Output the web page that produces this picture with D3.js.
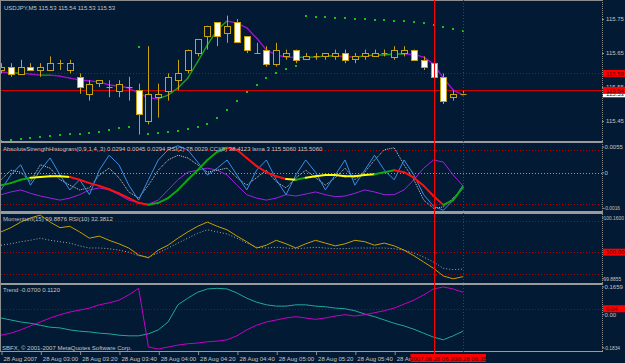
<!DOCTYPE html>
<html><head><meta charset="utf-8">
<script src="https://cdn.jsdelivr.net/npm/d3@7"></script>
<style>
html,body{margin:0;padding:0;background:#021a33;overflow:hidden}
svg{display:block}
text{font-family:"Liberation Sans",Arial,sans-serif;font-size:6px}
</style>
</head><body>
<svg id="c" width="625" height="363"></svg>
<script>
// ---------- DATA ----------
const symbolTitle = "USDJPY,M5  115.53 115.54 115.53 115.53";
const panel2Title = "AbsoluteStrengthHistogram(0,9,1,4,,3) 0.0294 0.0045 0.0294  RSI(2) 78.0029  CCI(8) 38.4123  lsma 3 115.5060 115.5060";
const panel3Title = "Momentum(15) 99.8876  RSI(10) 32.3812";
const panel4Title = "Trend -0.0700 0.1120";
const footerText = "SBFX, © 2001-2007 MetaQuotes Software Corp.";

const timeLabelBars = [0,4,8,12,16,20,24,28,32,36,40];
const timeLabels = ["28 Aug 2007","28 Aug 03:00","28 Aug 03:20","28 Aug 03:40","28 Aug 04:00","28 Aug 04:20","28 Aug 04:40","28 Aug 05:00","28 Aug 05:20","28 Aug 05:40","28 Aug 06:00"];

const opens  = [115.60,115.61,115.59,115.61,115.60,115.60,115.62,115.60,115.58,115.53,115.56,115.55,115.54,115.55,115.54,115.45,115.52,115.54,115.57,115.60,115.65,115.70,115.74,115.71,115.74,115.70,115.65,115.66,115.62,115.64,115.66,115.63,115.64,115.64,115.64,115.65,115.63,115.64,115.64,115.65,115.64,115.65,115.66,115.63,115.62,115.58,115.52,115.53];
const highs  = [115.62,115.62,115.63,115.62,115.62,115.64,115.63,115.63,115.59,115.57,115.57,115.57,115.57,115.58,115.56,115.67,115.56,115.59,115.63,115.66,115.69,115.73,115.74,115.76,115.75,115.70,115.68,115.67,115.68,115.66,115.66,115.65,115.65,115.65,115.66,115.66,115.65,115.66,115.66,115.66,115.67,115.67,115.66,115.64,115.62,115.59,115.54,115.54];
const lows   = [115.59,115.58,115.59,115.60,115.58,115.60,115.60,115.59,115.53,115.51,115.55,115.52,115.52,115.51,115.41,115.44,115.46,115.51,115.54,115.59,115.64,115.66,115.67,115.68,115.68,115.65,115.65,115.61,115.61,115.63,115.62,115.63,115.63,115.63,115.63,115.62,115.62,115.63,115.64,115.64,115.63,115.64,115.63,115.60,115.57,115.50,115.51,115.53];
const closes = [115.61,115.59,115.61,115.60,115.61,115.62,115.62,115.62,115.55,115.56,115.57,115.55,115.56,115.55,115.47,115.53,115.53,115.58,115.59,115.66,115.69,115.73,115.70,115.73,115.68,115.66,115.65,115.62,115.66,115.65,115.63,115.64,115.64,115.65,115.65,115.63,115.64,115.65,115.65,115.65,115.66,115.66,115.63,115.61,115.58,115.51,115.53,115.53];

const maLine = [115.594,115.591,115.591,115.588,115.585,115.585,115.582,115.576,115.571,115.568,115.565,115.556,115.553,115.547,115.532,115.518,115.515,115.526,115.547,115.576,115.624,115.674,115.718,115.744,115.738,115.724,115.694,115.659,115.644,115.638,115.637,115.638,115.638,115.641,115.641,115.640,115.638,115.641,115.644,115.644,115.647,115.647,115.646,115.638,115.618,115.576,115.541,115.526];
const sarDots = [115.391,115.394,115.397,115.400,115.403,115.406,115.409,115.412,115.413,115.415,115.418,115.424,115.429,115.432,115.668,115.412,115.415,115.418,115.421,115.426,115.432,115.441,115.459,115.482,115.509,115.535,115.556,115.576,115.591,115.603,115.612,115.759,115.756,115.755,115.753,115.752,115.750,115.749,115.747,115.746,115.744,115.743,115.740,115.737,115.732,115.726,115.721,115.715];

const mainTicks = [115.75,115.65,115.55,115.45];
const hLineDotted = 115.59;
const hLineSolid = 115.54;
const bidPrice = 115.53;

const vLineSolidBar = 44;
const vLineDottedBar = 47;
const vLineSolidLabel = "2007.08.28 06:20";
const vLineDottedLabel = "2007.08.28 06:35";

// panel 2 (oscillator window, 0-100 window units)
const ashLine   = [38,41,46,49,50,51,51,50,46,41,37,32,26,19,12,9,12,19,31,46,60,75,87,93,90,78,66,57,51,47,46,49,51,53,53,51,51,53,54,57,60,57,49,37,22,9,16,35];
const blueLine  = [31,53,68,38,60,78,53,31,46,24,60,82,68,38,16,46,75,90,96,90,72,53,63,75,53,31,60,75,46,24,53,75,57,31,53,75,38,60,82,60,46,75,53,24,7,1,16,38];
const dotLine2  = [46,60,57,43,68,63,46,38,31,34,53,63,49,28,19,38,60,75,82,78,68,57,60,63,49,38,49,60,43,34,49,60,49,38,49,63,46,57,75,90,93,68,46,16,4,6,19,34];
const purpleLine2 = [24,28,31,26,22,19,16,19,24,31,34,31,24,16,12,10,16,31,46,57,60,63,60,53,38,24,19,16,19,24,22,25,28,24,21,22,26,31,28,24,24,31,46,63,75,72,53,37];
const p2Levels = [{v:90,c:"red"},{v:56,c:"gray"},{v:10,c:"red"}];
const p2Labels = [{v:94,t:"0.0055"},{v:56,t:"0"},{v:4,t:"-0.0016"}];

// panel 3
const momentumLine = [73,79,87,93,97,87,79,81,73,64,67,61,56,50,40,36,47,54,64,73,81,87,81,76,67,59,50,54,61,56,50,56,61,57,53,56,61,59,54,57,53,47,39,30,21,10,6,9];
const rsiLine = [54,56,59,61,64,61,59,57,53,50,50,49,47,44,39,37,43,50,57,64,71,76,73,70,64,57,51,50,51,50,49,50,51,50,49,49,50,50,50,50,49,47,43,37,30,21,19,20];
const p3Levels = [89,44,13];
const p3Labels = [{v:93,t:"100.1600"},{v:6,t:"99.8855"}];
const p3Box = {v:44,t:"100.00"};

// panel 4
const trendPurple = [24,27,32,38,44,50,55,59,62,65,70,73,77,85,95,6,3,6,9,11,12,14,15,17,23,32,39,44,47,50,52,50,48,50,53,55,53,55,58,61,65,71,77,85,94,97,94,89];
const trendTeal   = [50,47,44,42,39,36,35,32,30,29,27,26,24,23,23,26,32,44,70,80,89,94,95,94,88,80,74,70,68,68,70,70,68,67,65,64,61,56,52,47,42,38,33,27,21,17,23,30];
const p4Levels = [64];
const p4Labels = [{v:97,t:"0.1659"},{v:55,t:"0.00"},{v:5,t:"-0.1834"}];
const p4Box = {v:64,t:"0.04"};

// ---------- DRAW ----------
const BG="#021a33", TXT="#c4c4c4", GOLD="#c9a210", GRID="#8c8c8c";
const svg = d3.select("#c");
const W=625, H=363, RIGHT=602;
const N = closes.length;
const x = d3.scaleLinear().domain([0,47]).range([1,463]);
const yM = d3.scaleLinear().domain([115.45,115.75]).range([121,19]);
const y2 = d3.scaleLinear().domain([0,100]).range([211,143]);
const y3 = d3.scaleLinear().domain([0,100]).range([283,213]);
const y4 = d3.scaleLinear().domain([0,100]).range([351,285]);

svg.append("rect").attr("width",W).attr("height",H).attr("fill",BG);

const defs = svg.append("defs");
function clip(id,y0,y1){defs.append("clipPath").attr("id",id).append("rect").attr("x",1).attr("y",y0).attr("width",RIGHT-1).attr("height",y1-y0);return "url(#"+id+")";}
const gM = svg.append("g").attr("clip-path",clip("cm",1,141));
const g2 = svg.append("g").attr("clip-path",clip("c2",143,211));
const g3 = svg.append("g").attr("clip-path",clip("c3",214,283));
const g4 = svg.append("g").attr("clip-path",clip("c4",286,351));

function hline(g,y,color,dash,w){g.append("line").attr("x1",1).attr("x2",RIGHT).attr("y1",Math.round(y)+0.5).attr("y2",Math.round(y)+0.5).attr("stroke",color).attr("stroke-width",w||1).attr("stroke-dasharray",dash||null);}

hline(gM,yM(hLineDotted),"#b00000","1,2");
hline(gM,yM(hLineSolid),"#d40000",null);

for(let i=0;i<N-1;i++){
  const up = maLine[i+1]>=maLine[i];
  gM.append("line").attr("x1",x(i)).attr("y1",yM(maLine[i])).attr("x2",x(i+1)).attr("y2",yM(maLine[i+1]))
    .attr("stroke",up?"#1f9e1f":"#a010d0").attr("stroke-width",1.4).attr("stroke-linecap","round");
}
gM.selectAll(".sar").data(sarDots).enter().append("rect")
  .attr("x",(d,i)=>Math.round(x(i))-1).attr("y",d=>Math.round(yM(d))-1).attr("width",2).attr("height",2).attr("fill","#19c019");

const cg = gM.append("g");
for(let i=0;i<N;i++){
  const cx = Math.round(x(i))+0.5;
  cg.append("line").attr("x1",cx).attr("x2",cx).attr("y1",yM(highs[i])).attr("y2",yM(lows[i])).attr("stroke",GOLD).attr("stroke-width",1);
  const top = yM(Math.max(opens[i],closes[i])), bot = yM(Math.min(opens[i],closes[i]));
  if (bot-top < 1){
    cg.append("line").attr("x1",cx-3).attr("x2",cx+3).attr("y1",Math.round(top)+0.5).attr("y2",Math.round(top)+0.5).attr("stroke",GOLD);
  } else {
    cg.append("rect").attr("x",cx-3).attr("y",Math.round(top)+0.5).attr("width",6).attr("height",Math.round(bot-top))
      .attr("fill",closes[i]>opens[i]?BG:"#ffffff").attr("stroke",GOLD).attr("stroke-width",1);
  }
}

p2Levels.forEach(l=>hline(g2,y2(l.v),l.c==="red"?"#c00000":"#9a9a9a","1,2"));
const line = (ys)=>d3.line().x((d,i)=>x(i)).y(d=>ys(d));
g2.append("path").datum(purpleLine2).attr("d",line(y2)).attr("fill","none").attr("stroke","#a020e0").attr("stroke-width",1);
g2.append("path").datum(dotLine2).attr("d",line(y2)).attr("fill","none").attr("stroke","#d0d0d0").attr("stroke-width",1).attr("stroke-dasharray","1,1");
g2.append("path").datum(blueLine).attr("d",line(y2)).attr("fill","none").attr("stroke","#3a8ee8").attr("stroke-width",1);
for(let i=0;i<N-1;i++){
  const d = ashLine[i+1]-ashLine[i];
  const col = d>=3?"#12a512":(d<=-3?"#ff1010":"#ffff00");
  g2.append("line").attr("x1",x(i)).attr("y1",y2(ashLine[i])).attr("x2",x(i+1)).attr("y2",y2(ashLine[i+1]))
    .attr("stroke",col).attr("stroke-width",2).attr("stroke-linecap","round");
}

p3Levels.forEach(v=>hline(g3,y3(v),"#b00000","1,2"));
g3.append("path").datum(rsiLine).attr("d",line(y3)).attr("fill","none").attr("stroke","#a8a8a8").attr("stroke-width",1).attr("stroke-dasharray","1,2");
g3.append("path").datum(momentumLine).attr("d",line(y3)).attr("fill","none").attr("stroke","#c8a000").attr("stroke-width",1);

p4Levels.forEach(v=>hline(g4,y4(v),"#a00000","1,2"));
g4.append("path").datum(trendTeal).attr("d",line(y4)).attr("fill","none").attr("stroke","#1ea89e").attr("stroke-width",1);
g4.append("path").datum(trendPurple).attr("d",line(y4)).attr("fill","none").attr("stroke","#c800c8").attr("stroke-width",1);

[[141,2],[211,3],[283,2],[351,1]].forEach(([y,h])=>svg.append("rect").attr("x",0).attr("y",y).attr("width",RIGHT+1).attr("height",h).attr("fill","#9a9a9a"));
svg.append("line").attr("x1",0.5).attr("x2",0.5).attr("y1",0).attr("y2",352).attr("stroke",GRID);
svg.append("line").attr("x1",0).attr("x2",RIGHT).attr("y1",0.5).attr("y2",0.5).attr("stroke",GRID);
svg.append("line").attr("x1",RIGHT+0.5).attr("x2",RIGHT+0.5).attr("y1",0).attr("y2",352).attr("stroke",GRID).attr("stroke-dasharray","1,1");

svg.append("line").attr("x1",Math.round(x(vLineSolidBar))+0.5).attr("x2",Math.round(x(vLineSolidBar))+0.5).attr("y1",0).attr("y2",355).attr("stroke","#ff0000");
svg.append("line").attr("x1",Math.round(x(vLineDottedBar))+0.5).attr("x2",Math.round(x(vLineDottedBar))+0.5).attr("y1",0).attr("y2",355).attr("stroke","#e00000").attr("stroke-dasharray","1,2");

function txt(t,xx,yy,col,anchor){return svg.append("text").attr("x",xx).attr("y",yy).attr("fill",col||TXT).attr("text-anchor",anchor||"start").text(t);}
txt(symbolTitle,4,9.5);
txt(panel2Title,3,151);
txt(panel3Title,3,221);
txt(panel4Title,3,292);
txt(footerText,2,350);

const axM = svg.append("g").attr("transform",`translate(${RIGHT},0)`).call(d3.axisRight(yM).tickValues(mainTicks).tickSize(2).tickFormat(d3.format(".2f")));
axM.select(".domain").remove();
axM.selectAll("line").attr("stroke",GRID);
axM.selectAll("text").attr("fill",TXT).attr("dx","-1");

function box(v,ys,t,bg,fg){
  const yy = ys(v);
  svg.append("rect").attr("x",RIGHT+1).attr("y",yy-3.5).attr("width",22).attr("height",7).attr("fill",bg);
  txt(t,RIGHT+4,yy+2.2,fg);
}
box(bidPrice,yM,bidPrice.toFixed(2),"#ffffff","#0a1a30");
box(hLineDotted,yM,hLineDotted.toFixed(2),"#ff0000","#4a0000");
box(hLineSolid,yM,hLineSolid.toFixed(2),"#ff0000","#4a0000");

function sideLabels(arr,ys){arr.forEach(l=>{ const yy=ys(l.v);
  svg.append("line").attr("x1",RIGHT).attr("x2",RIGHT+2).attr("y1",yy).attr("y2",yy).attr("stroke",GRID);
  const long = l.t.length>6;
  txt(l.t,long?RIGHT+1.5:RIGHT+2.5,yy+2).style("font-size",long?"4.9px":"6px");
});}
sideLabels(p2Labels,y2);
sideLabels(p3Labels,y3);
sideLabels(p4Labels,y4);
box(p3Box.v,y3,p3Box.t,"#ff0000","#4a0000");
box(p4Box.v,y4,p4Box.t,"#ff0000","#4a0000");

const axB = svg.append("g").attr("transform","translate(0,352)").call(d3.axisBottom(x).tickValues(timeLabelBars).tickSize(3).tickFormat((d,i)=>timeLabels[i]));
axB.select(".domain").remove();
axB.selectAll("line").attr("stroke",GRID).attr("transform","translate(0.5,0)");
axB.selectAll("text").attr("fill",TXT).attr("text-anchor","start").attr("dx","2").attr("dy","0").attr("y",8.5);

function tbox(bar,t){
  const cx = x(bar);
  svg.append("rect").attr("x",cx-23).attr("y",354).attr("width",46).attr("height",8).attr("fill","#ff0000");
  txt(t,cx,360.5,"#4a0000","middle");
}
tbox(vLineDottedBar,vLineDottedLabel);
tbox(vLineSolidBar,vLineSolidLabel);
</script>
</body></html>
